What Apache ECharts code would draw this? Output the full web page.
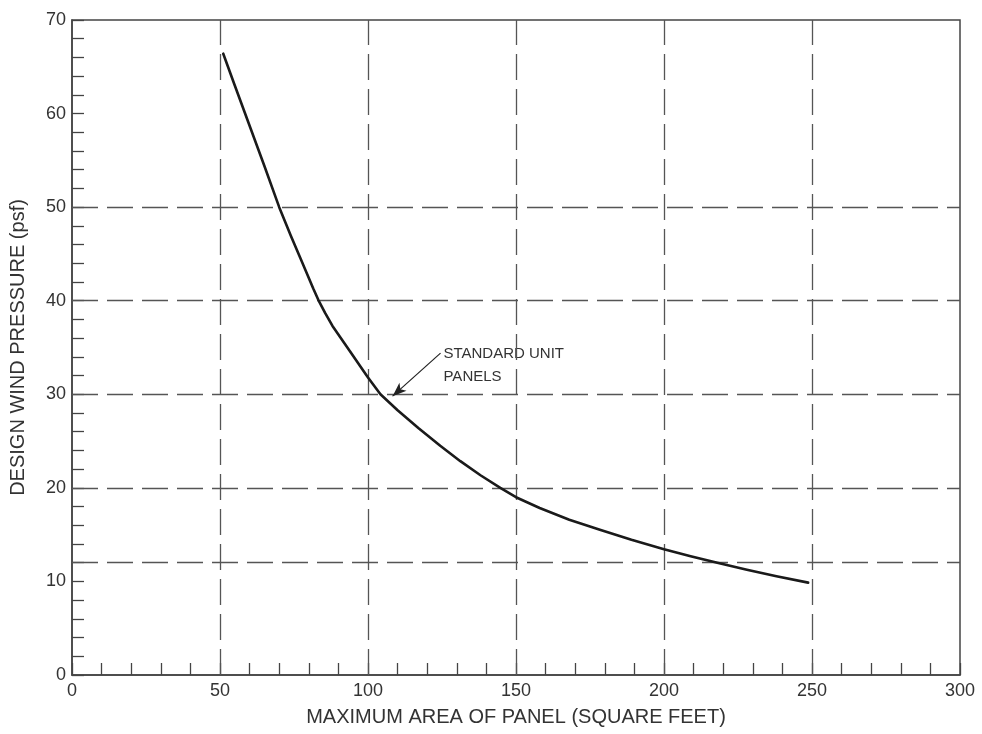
<!DOCTYPE html>
<html>
<head>
<meta charset="utf-8">
<script src="https://cdn.jsdelivr.net/npm/echarts@6/dist/echarts.min.js"></script>
<style>
  html, body { margin: 0; padding: 0; background: #fff; }
  #chart { width: 982px; height: 734px; }
</style>
</head>
<body>
<div id="chart"></div>
<script>
// 面积 (sq ft) / 风压 (psf)
const areaValues = [51.1, 55, 60, 65, 70, 74, 77.1, 79.5, 81.5, 83.2, 85.5, 88, 93.9, 100, 104.2, 110, 117, 124.4, 131.2, 138, 144.7, 150, 158, 168, 178.6, 189, 200, 209, 218, 228, 238, 248.7];
const pressureValues = [66.4, 63.0, 58.7, 54.4, 50, 46.9, 44.6, 42.8, 41.3, 40.1, 38.7, 37.3, 34.6, 31.8, 30.0, 28.3, 26.4, 24.5, 22.85, 21.35, 20, 19, 17.85, 16.6, 15.5, 14.45, 13.45, 12.7, 12.0, 11.25, 10.55, 9.87];

// 虚线网格位置
const gridX = [50, 100, 150, 200, 250];
const gridY = [12, 20, 30, 40, 50];

// 注释箭头 (起点 -> 终点)
const arrowFrom = [124.5, 34.4];
const arrowTo = [108.3, 29.8];
const noteAt = [125.5, 35.6];
const noteText = 'STANDARD UNIT\nPANELS';

const fontFamily = '"Liberation Sans", Arial, sans-serif';
const textColor = '#333';
const gridDash = [26, 9];

const chart = echarts.init(document.getElementById('chart'));

const curveData = areaValues.map((x, i) => [x, pressureValues[i]]);

const gridLines = [
  ...gridX.map((v) => ({ xAxis: v })),
  ...gridY.map((v) => ({ yAxis: v })),
];

chart.setOption({
  animation: false,
  grid: {
    left: 72,
    right: 22,
    top: 20,
    bottom: 59,
    show: true,
    borderColor: '#444',
    borderWidth: 1.5,
  },
  xAxis: {
    type: 'value',
    min: 0,
    max: 300,
    interval: 50,
    name: 'MAXIMUM AREA OF PANEL (SQUARE FEET)',
    nameLocation: 'middle',
    nameGap: 32,
    nameTextStyle: { fontFamily, fontSize: 20, color: textColor },
    axisLine: { show: true, lineStyle: { color: '#444', width: 1.5 } },
    axisTick: { show: true, inside: true, length: 12, lineStyle: { color: '#444', width: 1.3 } },
    minorTick: { show: true, splitNumber: 5, length: 12, lineStyle: { color: '#444', width: 1.3 } },
    axisLabel: { fontFamily, fontSize: 18, color: textColor, margin: 7 },
    splitLine: { show: false },
  },
  yAxis: {
    type: 'value',
    min: 0,
    max: 70,
    interval: 10,
    name: 'DESIGN WIND PRESSURE (psf)',
    nameLocation: 'middle',
    nameRotate: 90,
    nameGap: 44,
    nameTextStyle: { fontFamily, fontSize: 20, color: textColor },
    axisLine: { show: true, lineStyle: { color: '#444', width: 1.5 } },
    axisTick: { show: true, inside: true, length: 12, lineStyle: { color: '#444', width: 1.3 } },
    minorTick: { show: true, splitNumber: 5, length: 12, lineStyle: { color: '#444', width: 1.3 } },
    axisLabel: { fontFamily, fontSize: 18, color: textColor, margin: 6 },
    splitLine: { show: false },
  },
  series: [
    {
      type: 'line',
      data: curveData,
      smooth: false,
      symbol: 'none',
      silent: true,
      lineStyle: { color: '#1a1a1a', width: 2.6, join: 'round', cap: 'round' },
      z: 5,
      markLine: {
        silent: true,
        symbol: 'none',
        animation: false,
        label: { show: false },
        lineStyle: { color: '#555', width: 1.3, type: gridDash },
        data: [
          ...gridLines,
          [
            {
              coord: arrowFrom,
              symbol: 'none',
              lineStyle: { color: '#222', width: 1.2, type: 'solid' },
            },
            { coord: arrowTo, symbol: 'arrow', symbolSize: [8, 14] },
          ],
        ],
      },
    },
  ],
});

// 注释文字
const notePos = chart.convertToPixel({ gridIndex: 0 }, noteAt);
chart.setOption({
  graphic: [
    {
      type: 'text',
      left: notePos[0],
      top: notePos[1],
      style: {
        text: noteText,
        fontFamily,
        fontSize: 15,
        lineHeight: 23,
        fill: textColor,
      },
    },
  ],
});
</script>
</body>
</html>
